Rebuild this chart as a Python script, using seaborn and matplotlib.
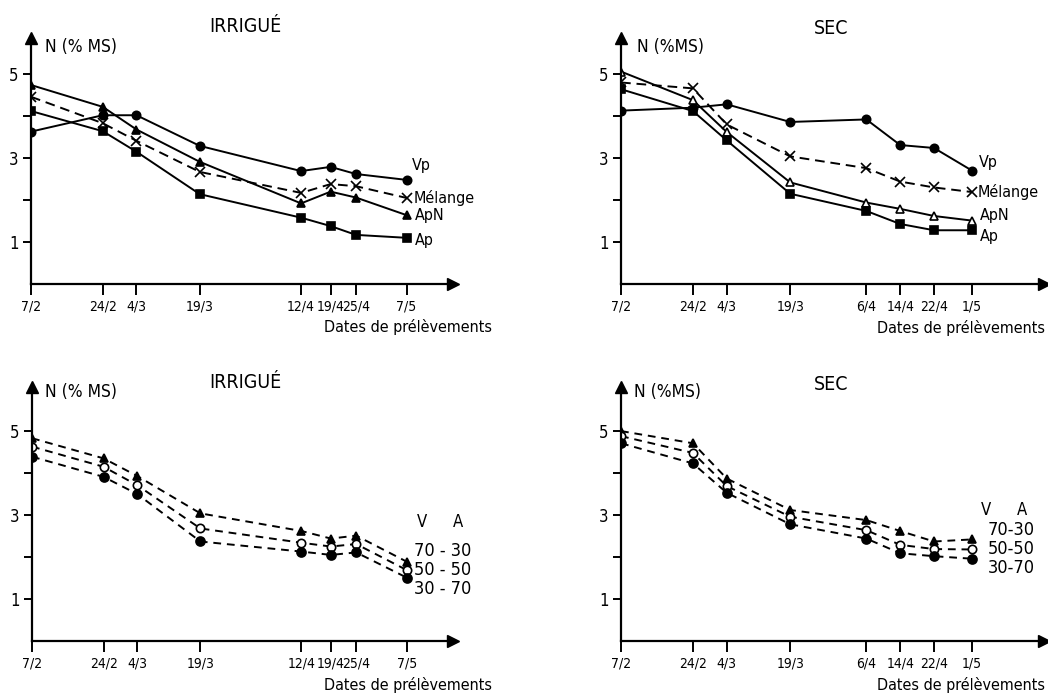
import numpy as np
import pandas as pd
import matplotlib
matplotlib.use("Agg")
import matplotlib.pyplot as plt
import seaborn as sns

# dates de prélèvements (jour/mois)
dates_irr = ["7/2", "24/2", "4/3", "19/3", "12/4", "19/4", "25/4", "7/5"]
dates_sec = ["7/2", "24/2", "4/3", "19/3", "6/4", "14/4", "22/4", "1/5"]

# N (% MS) - cultures pures et mélange
irr_vp = [3.63, 4.02, 4.02, 3.29, 2.69, 2.79, 2.62, 2.48]
irr_mel = [4.46, 3.83, 3.41, 2.67, 2.17, 2.38, 2.33, 2.05]
irr_apn = [4.74, 4.22, 3.68, 2.91, 1.92, 2.20, 2.06, 1.64]
irr_ap = [4.12, 3.64, 3.15, 2.14, 1.58, 1.38, 1.17, 1.10]

sec_vp = [4.13, 4.20, 4.28, 3.86, 3.92, 3.31, 3.24, 2.70]
sec_mel = [4.80, 4.66, 3.80, 3.04, 2.76, 2.44, 2.30, 2.19]
sec_apn = [5.06, 4.38, 3.62, 2.42, 1.94, 1.79, 1.62, 1.51]
sec_ap = [4.64, 4.12, 3.42, 2.15, 1.74, 1.43, 1.28, 1.28]

# N (% MS) - proportions V-A du mélange
irr_7030 = [4.83, 4.35, 3.93, 3.04, 2.62, 2.44, 2.51, 1.89]
irr_5050 = [4.63, 4.15, 3.71, 2.68, 2.34, 2.25, 2.31, 1.69]
irr_3070 = [4.39, 3.91, 3.50, 2.37, 2.13, 2.05, 2.11, 1.51]

sec_7030 = [5.00, 4.71, 3.87, 3.12, 2.88, 2.62, 2.37, 2.42]
sec_5050 = [4.88, 4.48, 3.69, 2.96, 2.64, 2.29, 2.19, 2.18]
sec_3070 = [4.71, 4.23, 3.53, 2.78, 2.44, 2.09, 2.02, 1.96]


def doy(labels):
    # jour de l'annee (annee non bissextile)
    d = pd.to_datetime([s + "/1987" for s in labels], format="%d/%m/%Y")
    return np.array(d.dayofyear)


sns.set_style("ticks")
plt.rcParams['font.family'] = ['DejaVu Sans']
plt.rcParams['font.stretch'] = 'condensed'
plt.rcParams['font.size'] = 11
for k in ['text.color', 'axes.labelcolor', 'xtick.color', 'ytick.color', 'axes.edgecolor']:
    plt.rcParams[k] = 'black'

fig = plt.figure(figsize=(10.48, 6.94), dpi=100)
W, H = 1048, 694


def make_ax(x0, x1, ytop, ybot, ymax):
    ax = fig.add_axes([x0 / W, (H - ybot) / H, (x1 - x0) / W, (ybot - ytop) / H])
    ax.set_ylim(0, ymax)
    ax.set_xlim(38, 138)
    for s in ["top", "right"]:
        ax.spines[s].set_visible(False)
    for s in ["left", "bottom"]:
        ax.spines[s].set_linewidth(1.6)
    ax.plot(1, 0, ">", color="black", ms=8, transform=ax.transAxes, clip_on=False)
    ax.plot(0, 1, "^", color="black", ms=8, transform=ax.transAxes, clip_on=False)
    ax.set_yticks([1, 3, 5])
    ax.set_yticklabels(["1", "3", "5"])
    ax.set_yticks([2, 4], minor=True)
    ax.tick_params(axis="y", which="both", length=6, width=1.4, pad=3, labelsize=12)
    ax.tick_params(axis="x", length=8, width=1.4, pad=3, labelsize=10)
    ax.set_xlabel("")
    ax.set_ylabel("")
    return ax


def draw(ax, x, y, marker, ls, mfc="black", ms=6):
    sns.lineplot(x=x, y=y, ax=ax, color="black", linewidth=1.4, linestyle=ls,
                 marker=marker, markersize=ms, markerfacecolor=mfc,
                 markeredgecolor="black", markeredgewidth=1.2)


def label(ax, x, y, txt, dx, dy):
    ax.annotate(txt, xy=(x, y), xytext=(dx, dy), textcoords="offset pixels",
                ha="left", va="center", fontsize=11.5)


dash = (0, (5, 3))
dash2 = (0, (4, 3))

# --- haut gauche : IRRIGUÉ ---
xi = doy(dates_irr)
ax1 = make_ax(31, 453, 38, 284, 5.86)
draw(ax1, xi, irr_vp, "o", "-")
draw(ax1, xi, irr_apn, "^", "-")
draw(ax1, xi, irr_mel, "x", dash, ms=7)
draw(ax1, xi, irr_ap, "s", "-", ms=5.5)
ax1.set_xticks(xi)
ax1.set_xticklabels(dates_irr)
label(ax1, xi[-1], irr_vp[-1], "Vp", 5, 14)
label(ax1, xi[-1], irr_mel[-1], "Mélange", 7, 0)
label(ax1, xi[-1], irr_apn[-1], "ApN", 8, 0)
label(ax1, xi[-1], irr_ap[-1], "Ap", 8, -3)

# --- haut droite : SEC ---
xs = doy(dates_sec)
ax2 = make_ax(621, 1044, 38, 284, 5.86)
draw(ax2, xs, sec_vp, "o", "-")
draw(ax2, xs, sec_apn, "^", "-", mfc="white")
draw(ax2, xs, sec_mel, "x", dash, ms=7)
draw(ax2, xs, sec_ap, "s", "-", ms=5.5)
ax2.set_xticks(xs)
ax2.set_xticklabels(dates_sec)
label(ax2, xs[-1], sec_vp[-1], "Vp", 7, 8)
label(ax2, xs[-1], sec_mel[-1], "Mélange", 6, 0)
label(ax2, xs[-1], sec_apn[-1], "ApN", 8, 5)
label(ax2, xs[-1], sec_ap[-1], "Ap", 8, -6)

# --- bas gauche : IRRIGUÉ, proportions ---
ax3 = make_ax(32, 453, 387, 641, 6.05)
draw(ax3, xi, irr_7030, "^", dash2, ms=6)
draw(ax3, xi, irr_5050, "o", dash2, mfc="white", ms=6)
draw(ax3, xi, irr_3070, "o", dash2, ms=6.5)
ax3.set_xticks(xi)
ax3.set_xticklabels(dates_irr)
ax3.text(0.926, 0.469, "V", transform=ax3.transAxes, ha="center", va="center", fontsize=12)
ax3.text(1.012, 0.469, "A", transform=ax3.transAxes, ha="center", va="center", fontsize=12)
ax3.text(0.976, 0.354, "70 - 30", transform=ax3.transAxes, ha="center", va="center", fontsize=13)
ax3.text(0.976, 0.280, "50 - 50", transform=ax3.transAxes, ha="center", va="center", fontsize=13)
ax3.text(0.976, 0.205, "30 - 70", transform=ax3.transAxes, ha="center", va="center", fontsize=13)

# --- bas droite : SEC, proportions ---
ax4 = make_ax(621, 1044, 387, 641, 6.05)
draw(ax4, xs, sec_7030, "^", dash2, ms=6)
draw(ax4, xs, sec_5050, "o", dash2, mfc="white", ms=6)
draw(ax4, xs, sec_3070, "o", dash2, ms=6.5)
ax4.set_xticks(xs)
ax4.set_xticklabels(dates_sec)
ax4.text(0.863, 0.516, "V", transform=ax4.transAxes, ha="center", va="center", fontsize=12)
ax4.text(0.948, 0.516, "A", transform=ax4.transAxes, ha="center", va="center", fontsize=12)
ax4.text(0.922, 0.437, "70-30", transform=ax4.transAxes, ha="center", va="center", fontsize=13)
ax4.text(0.922, 0.362, "50-50", transform=ax4.transAxes, ha="center", va="center", fontsize=13)
ax4.text(0.922, 0.287, "30-70", transform=ax4.transAxes, ha="center", va="center", fontsize=13)

# titres et libelles d'axes
for (cx, cy, t) in [(245, 27, "IRRIGUÉ"), (831, 28, "SEC"), (245, 382, "IRRIGUÉ"), (831, 385, "SEC")]:
    fig.text(cx / W, 1 - cy / H, t, ha="center", va="center", fontsize=14)
for (lx, ly, t) in [(45, 47, "N (% MS)"), (637, 47, "N (%MS)"), (45, 392, "N (% MS)"), (634, 392, "N (%MS)")]:
    fig.text(lx / W, 1 - ly / H, t, ha="left", va="center", fontsize=12.5)
for (rx, ry) in [(492, 327), (1045, 328), (492, 685), (1045, 685)]:
    fig.text(rx / W, 1 - ry / H, "Dates de prélèvements", ha="right", va="center", fontsize=11.5)

fig.savefig("out.png", dpi=100)
